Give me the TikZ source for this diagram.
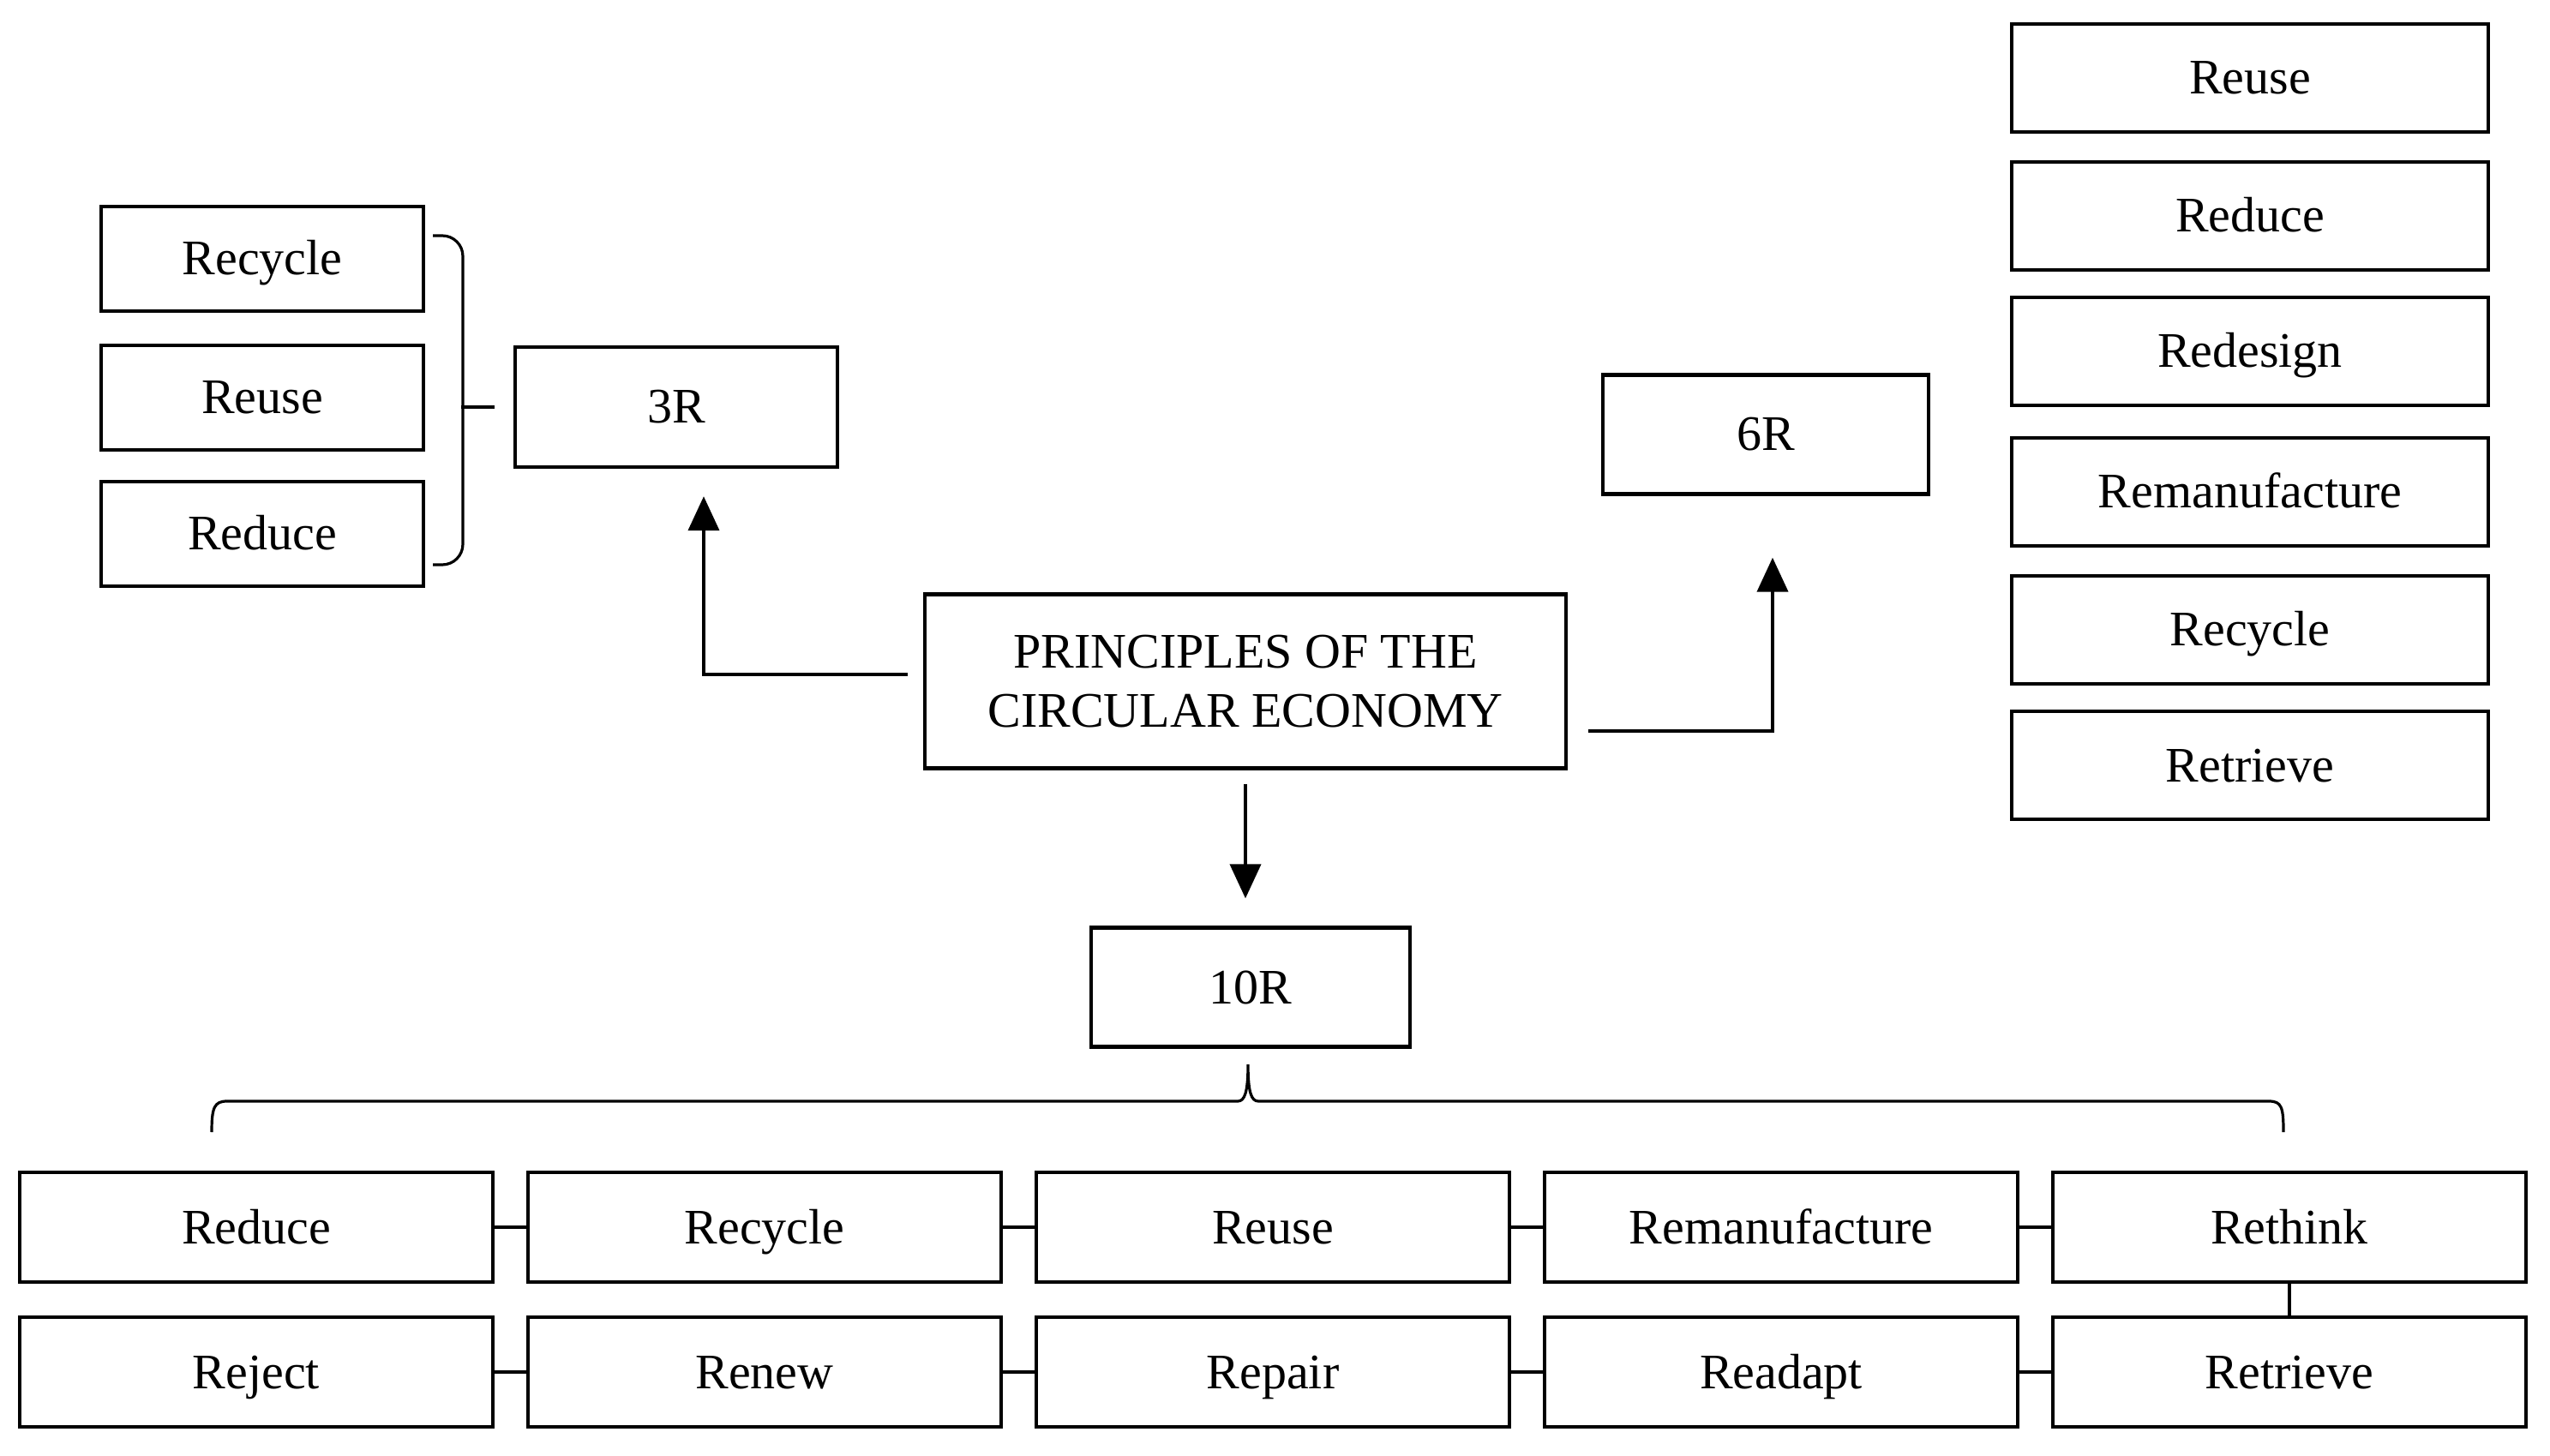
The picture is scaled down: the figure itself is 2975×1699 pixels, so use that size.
\documentclass[tikz,border=0pt]{standalone}
\usepackage{fontspec}
\setmainfont{Liberation Serif}
\usetikzlibrary{arrows.meta}
\tikzset{
  box/.style={draw,line width=1.1pt,inner sep=0pt,font=\fontsize{14.5pt}{17.4pt}\selectfont},
  sbox/.style={box,text height=12pt,text depth=2.5pt},
  lbox/.style={sbox,minimum width=94pt,minimum height=30.5pt},
  rbox/.style={sbox,minimum width=139pt,minimum height=31.5pt},
  bbox/.style={sbox,minimum width=138pt,minimum height=32pt},
  link/.style={line width=0.8pt}
}
\begin{document}
\begin{tikzpicture}[x=0.25pt,y=-0.25pt,>={Triangle[length=10pt,width=9pt]}]
\useasboundingbox (0,0) rectangle (2975,1699);
% 3R
\node[lbox] (rc3) at (306,302) {Recycle};
\node[lbox] (ru3) at (306,464) {Reuse};
\node[lbox] (rd3) at (306,623) {Reduce};
\node[sbox,minimum width=94pt,minimum height=35pt] (tr) at (789,475) {3R};
\draw[link,rounded corners=6pt] (505,275)--(540,275)--(540,659)--(505,659);
\draw[link] ([xshift=-5.5pt]tr.west)--++(-39,0);
% center
\node[box,minimum width=187pt,minimum height=50.75pt,align=center] (main) at (1453,795) {PRINCIPLES OF THE\\CIRCULAR ECONOMY};
\draw[->,line width=1pt]([xshift=-4.5pt,yshift=2pt]main.west)-|([xshift=8pt,yshift=-8pt]tr.south);
% 6R
\node[sbox,minimum width=95pt,minimum height=34.75pt] (sr) at (2060,507) {6R};
\draw[->,line width=1pt]([xshift=6pt,yshift=-14.5pt]main.east)-|([xshift=2pt,yshift=-18pt]sr.south);
\node[rbox] (s1) at (2625,91) {Reuse};
\node[rbox] (s2) at (2625,252) {Reduce};
\node[rbox] (s3) at (2625,410) {Redesign};
\node[rbox] (s4) at (2625,574) {Remanufacture};
\node[rbox] (s5) at (2625,735) {Recycle};
\node[rbox] (s6) at (2625,893) {Retrieve};
% 10R
\node[sbox,minimum width=93pt,minimum height=34.75pt] (ten) at (1459,1152) {10R};
\draw[->,line width=1pt]([yshift=-4pt]main.south)--([yshift=8pt]main.south |- ten.north);
\draw[link] (247,1321) .. controls (247,1292) and (250,1285) .. (265,1285) -- (1444,1285)
  .. controls (1452,1285) and (1456,1275) .. (1456,1242)
  .. controls (1456,1275) and (1460,1285) .. (1468,1285) -- (2647,1285)
  .. controls (2662,1285) and (2664,1292) .. (2664,1321);
\node[bbox] (t1) at (299,1432) {Reduce};
\node[bbox] (t2) at (892,1432) {Recycle};
\node[bbox] (t3) at (1485,1432) {Reuse};
\node[bbox] (t4) at (2078,1432) {Remanufacture};
\node[bbox] (t5) at (2671,1432) {Rethink};
\node[bbox] (b1) at (299,1601) {Reject};
\node[bbox] (b2) at (892,1601) {Renew};
\node[bbox] (b3) at (1485,1601) {Repair};
\node[bbox] (b4) at (2078,1601) {Readapt};
\node[bbox] (b5) at (2671,1601) {Retrieve};
\draw[link] (t1)--(t2);
\draw[link] (t2)--(t3);
\draw[link] (t3)--(t4);
\draw[link] (t4)--(t5);
\draw[link] (b1)--(b2);
\draw[link] (b2)--(b3);
\draw[link] (b3)--(b4);
\draw[link] (b4)--(b5);
\draw[link] (t5)--(b5);
\end{tikzpicture}
\end{document}
